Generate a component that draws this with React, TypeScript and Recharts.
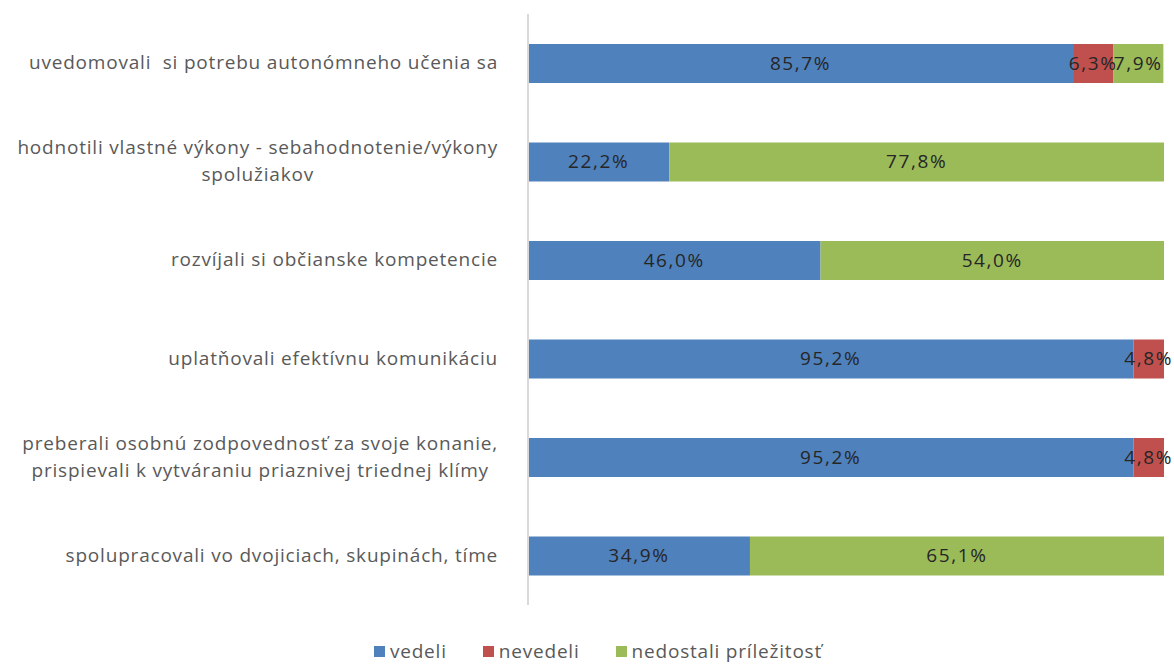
import { Bar, BarChart, LabelList, Legend, XAxis, YAxis } from "recharts";

const categories = [
  "uvedomovali  si potrebu autonómneho učenia sa",
  "hodnotili vlastné výkony - sebahodnotenie/výkony\nspolužiakov",
  "rozvíjali si občianske kompetencie",
  "uplatňovali efektívnu komunikáciu",
  "preberali osobnú zodpovednosť za svoje konanie,\nprispievali k vytváraniu priaznivej triednej klímy",
  "spolupracovali vo dvojiciach, skupinách, tíme",
];
const vedeli = [85.7, 22.2, 46.0, 95.2, 95.2, 34.9];
const nevedeli = [6.3, 0, 0, 4.8, 4.8, 0];
const nedostali = [7.9, 77.8, 54.0, 0, 0, 65.1];

const seriesNames = ["vedeli", "nevedeli", "nedostali príležitosť"];
const seriesColors = ["#4f81bd", "#c0504d", "#9bbb59"];

const data = categories.map((name, i) => ({
  name,
  vedeli: vedeli[i],
  nevedeli: nevedeli[i],
  nedostali: nedostali[i],
}));

const FONT = "'Open Sans', sans-serif";
const FONT_SIZE = 19;
const SPACING = 0.8;

let ctx: CanvasRenderingContext2D | null = null;
const measure = (s: string) => {
  if (!ctx) ctx = document.createElement("canvas").getContext("2d");
  if (!ctx) return s.length * 10;
  ctx.font = `${FONT_SIZE}px 'Open Sans'`;
  return ctx.measureText(s).width + s.length * SPACING;
};

const CategoryTick = (props: any) => {
  const { x, y, payload } = props;
  const lines: string[] = String(payload.value).split("\n");
  const widths = lines.map(measure);
  const maxW = Math.max(...widths);
  const right = x - 22;
  const cx = right - maxW / 2;
  const lineH = 27;
  const top = y - ((lines.length - 1) * lineH) / 2;
  return (
    <g>
      {lines.map((l, i) => (
        <text
          key={i}
          x={cx}
          y={top + i * lineH}
          dy={6}
          textAnchor="middle"
          fill="#595959"
          fontFamily={FONT}
          fontSize={FONT_SIZE}
          letterSpacing={SPACING}
          style={{ whiteSpace: "pre" }}
        >
          {l}
        </text>
      ))}
    </g>
  );
};

const renderValue = (props: any) => {
  const { x, y, width, height, value } = props;
  if (!value) return null;
  return (
    <text
      x={x + width / 2}
      y={y + height / 2}
      dy={6}
      textAnchor="middle"
      fill="#262626"
      fontFamily={FONT}
      fontSize={FONT_SIZE}
      letterSpacing={1.6}
    >
      {Number(value).toFixed(1).replace(".", ",")}%
    </text>
  );
};

const renderLegend = () => (
  <div
    style={{
      height: 59,
      display: "flex",
      justifyContent: "center",
      alignItems: "flex-end",
      boxSizing: "border-box",
      fontFamily: FONT,
      fontSize: FONT_SIZE,
      letterSpacing: SPACING,
      color: "#595959",
      paddingLeft: 32,
    }}
  >
    {seriesNames.map((n, i) => (
      <span
        key={n}
        style={{
          display: "inline-flex",
          alignItems: "center",
          marginRight: i < seriesNames.length - 1 ? 36 : 0,
        }}
      >
        <span
          style={{
            width: 11,
            height: 11,
            background: seriesColors[i],
            marginRight: 5,
            display: "inline-block",
          }}
        />
        {n}
      </span>
    ))}
  </div>
);

export default function App() {
  return (
    <div style={{ position: "absolute", left: 0, top: 0, background: "#fff" }}>
      <BarChart
        width={1174}
        height={664}
        data={data}
        layout="vertical"
        margin={{ top: 14, right: 10, bottom: 0, left: 0 }}
        barSize={39}
      >
        <XAxis type="number" domain={[0, 100]} hide />
        <YAxis
          type="category"
          dataKey="name"
          width={528}
          tickLine={false}
          axisLine={{ stroke: "#d9d9d9", strokeWidth: 2 }}
          tick={<CategoryTick />}
          interval={0}
        />
        <Legend verticalAlign="bottom" content={renderLegend} />
        <Bar dataKey="vedeli" stackId="a" fill={seriesColors[0]} isAnimationActive={false}>
          <LabelList dataKey="vedeli" content={renderValue} />
        </Bar>
        <Bar dataKey="nevedeli" stackId="a" fill={seriesColors[1]} isAnimationActive={false}>
          <LabelList dataKey="nevedeli" content={renderValue} />
        </Bar>
        <Bar dataKey="nedostali" stackId="a" fill={seriesColors[2]} isAnimationActive={false}>
          <LabelList dataKey="nedostali" content={renderValue} />
        </Bar>
      </BarChart>
    </div>
  );
}
